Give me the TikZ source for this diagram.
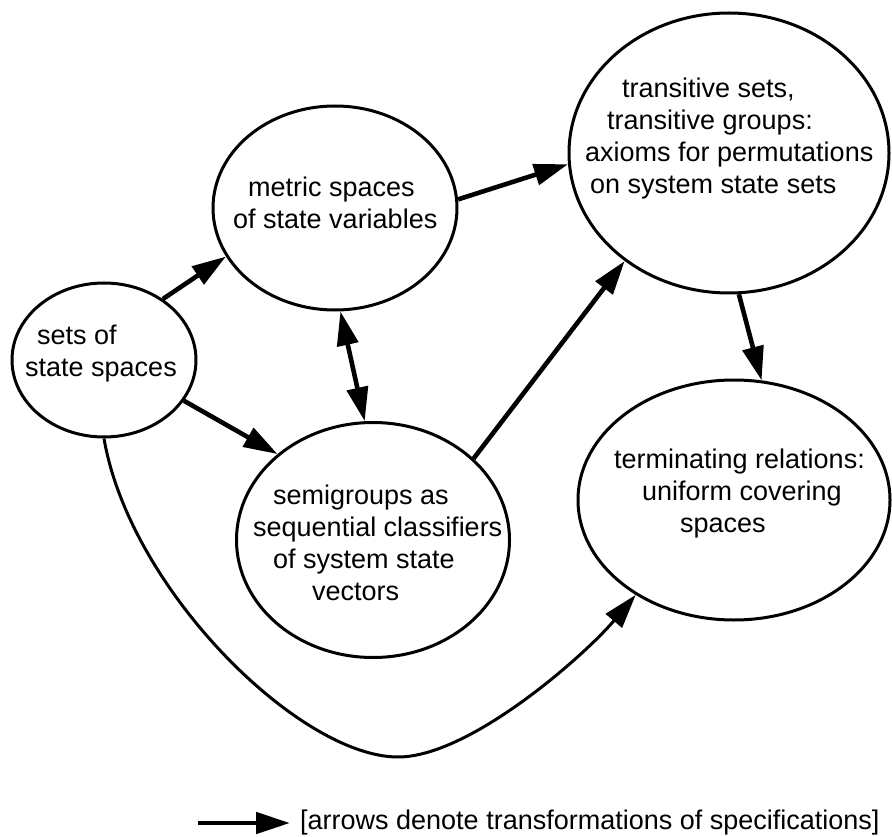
\documentclass[tikz,border=0pt]{standalone}
\usepackage{fontspec}
\setmainfont{Liberation Sans}
\usetikzlibrary{shapes.geometric,arrows.meta}

\tikzset{
	space/.style={draw, ellipse, line width=3pt, inner sep=0pt},
	txt/.style={align=left, anchor=north west, inner sep=0pt, font=\fontsize{27}{32}\selectfont},
	trf/.style={line width=4.6pt, -{Triangle[length=34pt,width=21pt]}},
	mutual/.style={line width=4.6pt, {Triangle[length=34pt,width=21pt]}-{Triangle[length=34pt,width=21pt]}},
	curve/.style={line width=3pt, -{Triangle[length=34pt,width=21pt]}},
}

\begin{document}
\begin{tikzpicture}[x=1pt,y=-1pt]
	\useasboundingbox (0,0) rectangle (892,837);

	% the five spaces
	\node[space, minimum width=184pt, minimum height=154pt] (sets) at (104,360) {};
	\node[space, minimum width=244pt, minimum height=204pt] (metric) at (335,208) {};
	\node[space, minimum width=320pt, minimum height=280pt] (trans) at (729,153) {};
	\node[space, minimum width=273pt, minimum height=235pt] (semi) at (373,540) {};
	\node[space, minimum width=312pt, minimum height=240pt] (term) at (734,500) {};

	\node[txt] (setstext) at (25,325) {\hspace*{12pt}sets of\\state spaces};
	\node[txt] (metrictext) at (233,177) {\hspace*{15pt}metric spaces\\of state variables};
	\node[txt] (transtext) at (585,78)
	{
		\hspace*{37pt}transitive sets,\\
		\hspace*{22pt}transitive groups:\\
		axioms for permutations\\
		\hspace*{5pt}on system state sets
	};
	\node[txt] (semitext) at (253,485)
	{
		\hspace*{20pt}semigroups as\\
		sequential classifiers\\
		\hspace*{20pt}of system state\\
		\hspace*{59pt}vectors
	};
	\node[txt] (termtext) at (614,449)
	{
		terminating relations:\\
		\hspace*{28pt}uniform covering\\
		\hspace*{66pt}spaces
	};

	% transformations
	\draw[trf] (sets.46) -- (metric.204);
	\draw[trf] (sets.-27) -- (semi.138);
	\draw[mutual] (metric.273) -- (semi.94);
	\draw[trf] (metric.4) -- (trans.184);
	\draw[trf] (semi.39) -- (trans.226);
	\draw[trf] (trans.274) -- (term.77);
	\coordinate (dip) at (398,757);
	\draw[curve] (sets.270) .. controls (130,590) and (300,757) .. (dip)
		.. controls (470,757) and (585,655) .. (term.224);

	% key
	\node[txt, anchor=west] (key) at (300,823) {[arrows denote transformations of specifications]};
	\coordinate (keytail) at (198,823);
	\draw[trf] (keytail) -- ([xshift=-10pt]key.west);
\end{tikzpicture}
\end{document}
